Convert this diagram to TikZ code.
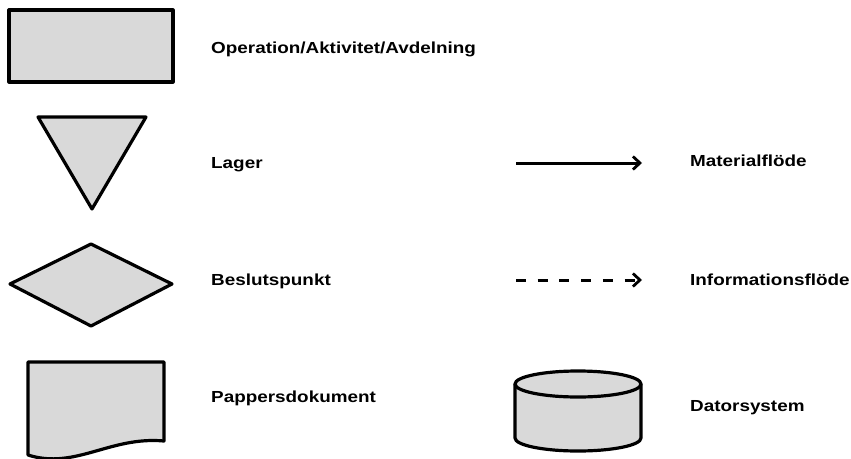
\documentclass[tikz,border=0pt]{standalone}
\usepackage{fontspec}
\setmainfont[FakeStretch=1.18]{Liberation Sans}
\usetikzlibrary{arrows.meta}
\definecolor{symbgray}{HTML}{D9D9D9}

\begin{document}
\begin{tikzpicture}[x=1pt,y=-1pt,
    symb/.style={draw=black, fill=symbgray, line width=3.2pt, line join=round},
    lbl/.style={anchor=base west, inner sep=0pt, font=\fontsize{16}{18}\selectfont\bfseries},
    flow/.style={line width=3pt, -{Straight Barb[length=7pt,width=13pt,line width=2.8pt]}}]
      \useasboundingbox (0,0) rectangle (851,458);
      % vanster kolumn
      \node[symb, minimum width=164pt, minimum height=72pt, inner sep=0pt] (oper) at (91,46) {};
      \path[symb] (38,117) -- (146,117) -- (92,209) -- cycle;
      \path[symb] (10,284) -- (91,244) -- (172,284) -- (91,326) -- cycle;
      \path[symb] (28,362) -- (164,362) -- (164,441)
          .. controls (110,436) and (75,470) .. (28,455) -- cycle;
      \node[lbl] (toper) at (211,53) {Operation/Aktivitet/Avdelning};
      \node[lbl] (tlager) at (211,168.5) {Lager};
      \node[lbl] (tbeslut) at (211,285.5) {Beslutspunkt};
      \node[lbl] (tpapper) at (211,402.5) {Pappersdokument};
      % hoger kolumn
      \coordinate (ms) at (516,163);
      \coordinate (me) at (642,163);
      \coordinate (is) at (516,280);
      \coordinate (ie) at (642,280);
      \draw[flow] (ms) -- (me);
      \draw[flow, dash pattern=on 10pt off 11.7pt] (is) -- (ie);
      \path[symb] (515,384) -- (515,438) arc[start angle=180, end angle=360, x radius=63, y radius=-13]
          -- (641,384) -- cycle;
      \path[symb] (578,384) ellipse[x radius=63, y radius=13];
      \node[lbl] (tmat) at (690,166.7) {Materialflöde};
      \node[lbl] (tinfo) at (690,285.5) {Informationsflöde};
      \node[lbl] (tdator) at (690,411.7) {Datorsystem};
\end{tikzpicture}
\end{document}
